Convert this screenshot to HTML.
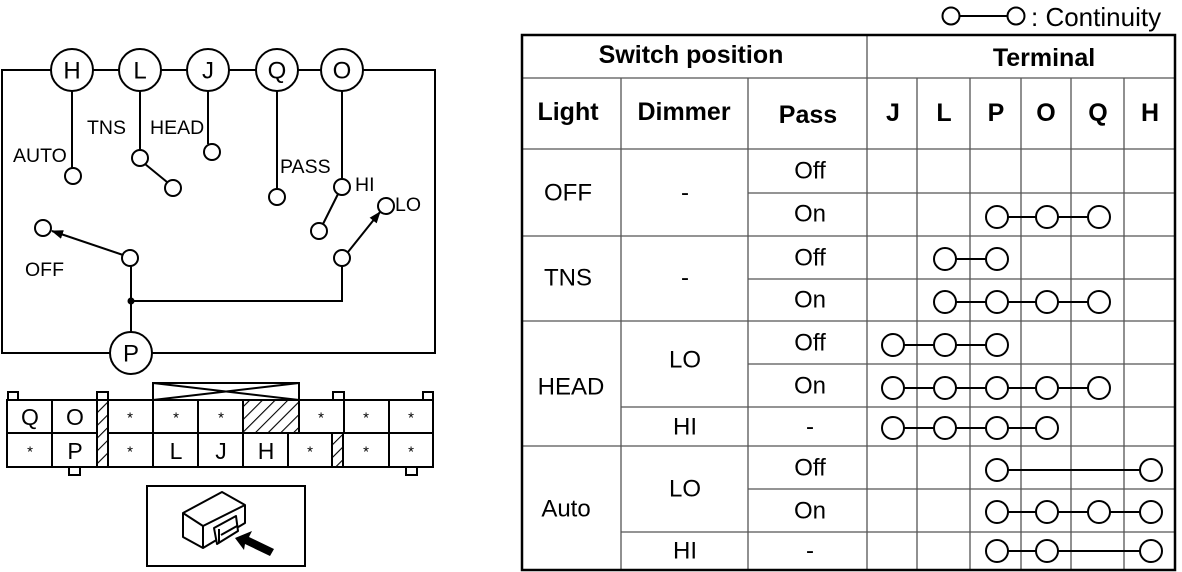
<!DOCTYPE html>
<html><head><meta charset="utf-8"><style>
html,body{margin:0;padding:0;background:#fff;}
svg{display:block;font-family:"Liberation Sans",Arial,sans-serif;}
</style></head><body>
<svg width="1182" height="572" viewBox="0 0 1182 572" xmlns="http://www.w3.org/2000/svg">
<defs>
<pattern id="h" patternUnits="userSpaceOnUse" width="9" height="9" patternTransform="rotate(45)">
<rect width="9" height="9" fill="#fff"/><line x1="0" y1="0" x2="0" y2="9" stroke="#000" stroke-width="2.2"/>
</pattern>
<marker id="ar" markerWidth="12" markerHeight="9" refX="11" refY="4.5" orient="auto" markerUnits="userSpaceOnUse">
<path d="M0,0 L12,4.5 L0,9 Z" fill="#000"/></marker>
</defs>
<g stroke="#000" stroke-width="2" fill="none">
<rect x="2" y="70" width="433" height="283"/>
<line x1="72" y1="70" x2="72" y2="168"/>
<line x1="140" y1="70" x2="140" y2="150"/>
<line x1="208" y1="70" x2="208" y2="144"/>
<line x1="277" y1="70" x2="277" y2="189"/>
<line x1="342" y1="70" x2="342" y2="179"/>
<line x1="145" y1="164" x2="167" y2="182"/>
<line x1="338" y1="194" x2="323" y2="224"/>
<line x1="131" y1="266" x2="131" y2="332"/>
<polyline points="131,301 342,301 342,266"/>
<line x1="123" y1="255" x2="52" y2="231" marker-end="url(#ar)"/>
<line x1="348" y1="252" x2="380" y2="212" marker-end="url(#ar)"/>
</g>
<g stroke="#000" stroke-width="2" fill="#fff">
<circle cx="72" cy="70" r="21"/><circle cx="140" cy="70" r="21"/><circle cx="208" cy="70" r="21"/>
<circle cx="277" cy="70" r="21"/><circle cx="342" cy="70" r="21"/><circle cx="131" cy="353" r="21"/>
<circle cx="73" cy="176" r="8"/><circle cx="140" cy="158" r="8"/><circle cx="173" cy="188" r="8"/>
<circle cx="212" cy="152" r="8"/><circle cx="277" cy="197" r="8"/><circle cx="342" cy="187" r="8"/>
<circle cx="319" cy="231" r="8"/><circle cx="386" cy="206" r="8"/><circle cx="342" cy="258" r="8"/>
<circle cx="43" cy="228" r="8"/><circle cx="130" cy="258" r="8"/>
</g>
<circle cx="131" cy="301" r="3.5" fill="#000"/>
<g font-size="24" text-anchor="middle" dominant-baseline="central">
<text x="72" y="71">H</text><text x="140" y="71">L</text><text x="208" y="71">J</text>
<text x="277" y="71">Q</text><text x="342" y="71">O</text><text x="131" y="354">P</text>
</g>
<g font-size="19.5">
<text x="13" y="162">AUTO</text><text x="87" y="134">TNS</text><text x="150" y="134">HEAD</text>
<text x="280" y="173">PASS</text><text x="355" y="191">HI</text><text x="395" y="211">LO</text>
<text x="25" y="276">OFF</text>
</g>
<g stroke="#000" stroke-width="2" fill="#fff">
<rect x="153" y="383" width="146" height="17"/>
<line x1="153" y1="383" x2="299" y2="400"/><line x1="153" y1="400" x2="299" y2="383"/>
<rect x="8" y="392" width="10" height="8"/><rect x="97" y="392" width="11" height="8"/>
<rect x="333" y="392" width="11" height="8"/><rect x="423" y="392" width="10" height="8"/>
<rect x="69" y="467" width="11" height="8"/><rect x="406" y="467" width="11" height="8"/>
<rect x="7" y="400" width="426" height="67"/>
<line x1="7" y1="433" x2="433" y2="433"/>
<line x1="52" y1="400" x2="52" y2="467"/>
<line x1="153" y1="400" x2="153" y2="467"/><line x1="198" y1="400" x2="198" y2="467"/>
<line x1="243" y1="400" x2="243" y2="467"/><line x1="389" y1="400" x2="389" y2="467"/>
<line x1="343" y1="433" x2="343" y2="467"/><line x1="288" y1="433" x2="288" y2="467"/>
<line x1="344" y1="400" x2="344" y2="433"/>
<rect x="97" y="400" width="11" height="67" fill="url(#h)"/>
<rect x="243" y="400" width="56" height="33" fill="url(#h)"/>
<rect x="332" y="433" width="11" height="34" fill="url(#h)"/>
</g>
<g font-size="23" text-anchor="middle" dominant-baseline="central">
<text x="30" y="417">Q</text><text x="75" y="417">O</text><text x="75" y="451">P</text>
<text x="176" y="451">L</text><text x="221" y="451">J</text><text x="266" y="451">H</text>
</g>
<g font-size="15" text-anchor="middle" dominant-baseline="central">
<text x="130" y="418">*</text><text x="176" y="418">*</text><text x="221" y="418">*</text>
<text x="321" y="418">*</text><text x="366" y="418">*</text><text x="411" y="418">*</text>
<text x="30" y="452">*</text><text x="130" y="452">*</text><text x="310" y="452">*</text>
<text x="366" y="452">*</text><text x="411" y="452">*</text>
</g>
<rect x="147" y="486" width="158" height="80" fill="none" stroke="#000" stroke-width="2"/>
<g stroke="#000" stroke-width="2" fill="#fff" stroke-linejoin="round">
<polygon points="183,513 222,492 245,505 245,523 203,548 183,537"/>
<polyline points="183,513 203,526 245,505" fill="none"/>
<line x1="203" y1="526" x2="203" y2="548"/>
<polygon points="214,528 236,516 238,531 217,544"/>
<line x1="219" y1="529" x2="219" y2="543"/>
<line x1="221" y1="535" x2="237" y2="526"/>
</g>
<polygon points="235,538 252,531 249,537 274,549 270,556 245,544 244,550" fill="#000"/>
<g stroke="#000" stroke-width="2" fill="#fff">
<line x1="952" y1="16" x2="1016" y2="16"/>
<circle cx="951" cy="16" r="8.5"/><circle cx="1016" cy="16" r="8.5"/>
</g>
<text x="1031" y="26" font-size="26">: Continuity</text>
<g stroke="#555" stroke-width="1.3" fill="none">
<line x1="522" y1="78" x2="1175" y2="78"/>
<line x1="522" y1="149" x2="1175" y2="149"/>
<line x1="748" y1="193" x2="1175" y2="193"/>
<line x1="522" y1="236" x2="1175" y2="236"/>
<line x1="748" y1="279" x2="1175" y2="279"/>
<line x1="522" y1="321" x2="1175" y2="321"/>
<line x1="748" y1="364" x2="1175" y2="364"/>
<line x1="621" y1="407" x2="1175" y2="407"/>
<line x1="522" y1="446" x2="1175" y2="446"/>
<line x1="748" y1="489" x2="1175" y2="489"/>
<line x1="621" y1="532" x2="1175" y2="532"/>
<line x1="621" y1="78" x2="621" y2="570"/>
<line x1="748" y1="78" x2="748" y2="570"/>
<line x1="867" y1="35" x2="867" y2="570"/>
<line x1="917" y1="78" x2="917" y2="570"/>
<line x1="970" y1="78" x2="970" y2="570"/>
<line x1="1021" y1="78" x2="1021" y2="570"/>
<line x1="1071" y1="78" x2="1071" y2="570"/>
<line x1="1124" y1="78" x2="1124" y2="570"/>
</g>
<rect x="522" y="35" width="653" height="535" fill="none" stroke="#000" stroke-width="2.5"/>
<g font-size="25" font-weight="bold" text-anchor="middle" dominant-baseline="central">
<text x="691" y="55">Switch position</text><text x="1044" y="58">Terminal</text>
<text x="568" y="112">Light</text><text x="684" y="112">Dimmer</text><text x="808" y="115">Pass</text>
<text x="893" y="113">J</text><text x="944" y="113">L</text><text x="996" y="113">P</text>
<text x="1046" y="113">O</text><text x="1098" y="113">Q</text><text x="1150" y="113">H</text>
</g>
<g font-size="24" text-anchor="middle" dominant-baseline="central">
<text x="568" y="193">OFF</text><text x="685" y="193">-</text>
<text x="568" y="278">TNS</text><text x="685" y="278">-</text>
<text x="571" y="387">HEAD</text><text x="685" y="360">LO</text><text x="685" y="427">HI</text>
<text x="566" y="509">Auto</text><text x="685" y="489">LO</text><text x="685" y="551">HI</text>
<text x="810" y="171">Off</text><text x="810" y="214">On</text>
<text x="810" y="258">Off</text><text x="810" y="300">On</text>
<text x="810" y="343">Off</text><text x="810" y="386">On</text><text x="810" y="427">-</text>
<text x="810" y="468">Off</text><text x="810" y="511">On</text><text x="810" y="551">-</text>
</g>
<g stroke="#000" stroke-width="2" fill="#fff">
<line x1="997" y1="217" x2="1099" y2="217"/>
<circle cx="997" cy="217" r="11"/><circle cx="1047" cy="217" r="11"/><circle cx="1099" cy="217" r="11"/>
<line x1="945" y1="259" x2="997" y2="259"/>
<circle cx="945" cy="259" r="11"/><circle cx="997" cy="259" r="11"/>
<line x1="945" y1="302" x2="1099" y2="302"/>
<circle cx="945" cy="302" r="11"/><circle cx="997" cy="302" r="11"/><circle cx="1047" cy="302" r="11"/><circle cx="1099" cy="302" r="11"/>
<line x1="893" y1="345" x2="997" y2="345"/>
<circle cx="893" cy="345" r="11"/><circle cx="945" cy="345" r="11"/><circle cx="997" cy="345" r="11"/>
<line x1="893" y1="388" x2="1099" y2="388"/>
<circle cx="893" cy="388" r="11"/><circle cx="945" cy="388" r="11"/><circle cx="997" cy="388" r="11"/><circle cx="1047" cy="388" r="11"/><circle cx="1099" cy="388" r="11"/>
<line x1="893" y1="428" x2="1047" y2="428"/>
<circle cx="893" cy="428" r="11"/><circle cx="945" cy="428" r="11"/><circle cx="997" cy="428" r="11"/><circle cx="1047" cy="428" r="11"/>
<line x1="997" y1="470" x2="1151" y2="470"/>
<circle cx="997" cy="470" r="11"/><circle cx="1151" cy="470" r="11"/>
<line x1="997" y1="512" x2="1151" y2="512"/>
<circle cx="997" cy="512" r="11"/><circle cx="1047" cy="512" r="11"/><circle cx="1099" cy="512" r="11"/><circle cx="1151" cy="512" r="11"/>
<line x1="997" y1="551" x2="1151" y2="551"/>
<circle cx="997" cy="551" r="11"/><circle cx="1047" cy="551" r="11"/><circle cx="1151" cy="551" r="11"/>
</g>
</svg>
</body></html>
